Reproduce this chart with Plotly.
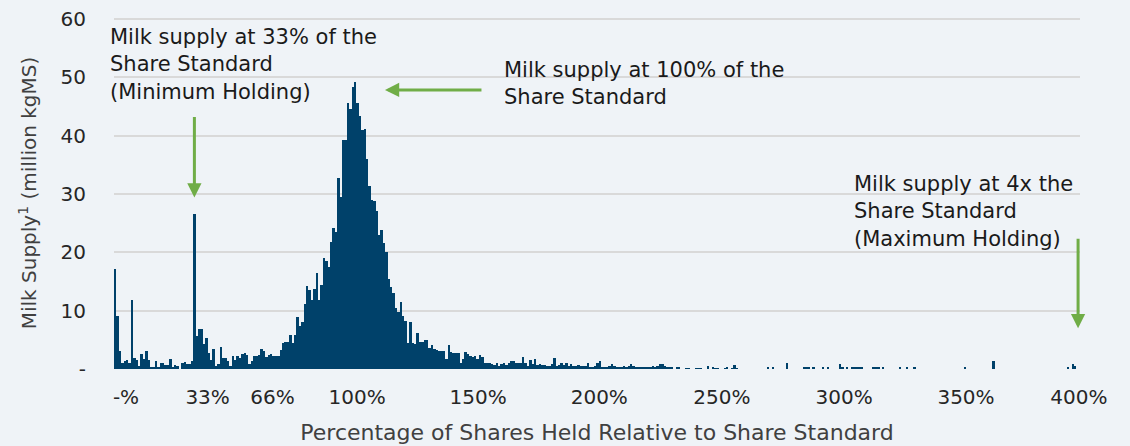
import plotly.graph_objects as go

# ---------------- data (million kgMS per 1% bin of share holding) ----------------
supply_000_049 = [17.1, 9.1, 3.0, 1.1, 1.4, 1.6, 1.0, 11.8, 1.8, 1.6,
                  0.5, 2.6, 1.7, 3.0, 1.6, 0.3, 0.3, 1.3, 0.4, 1.1,
                  1.0, 0.7, 0.7, 1.7, 0.3, 0.7, 0.5, 0.0, 1.1, 1.2,
                  0.9, 0.9, 1.3, 26.6, 5.7, 6.9, 6.8, 4.2, 5.3, 2.7,
                  1.6, 3.5, 0.5, 0.9, 3.7, 1.9, 1.8, 1.4, 0.6, 2.3]
supply_050_099 = [1.5, 2.2, 1.9, 2.5, 2.8, 2.4, 0.9, 1.3, 2.3, 2.3,
                  2.4, 3.5, 3.0, 2.0, 2.4, 2.5, 2.2, 2.2, 2.3, 3.2,
                  4.5, 4.6, 4.7, 5.9, 4.4, 5.9, 8.9, 7.3, 8.1, 11.1,
                  14.2, 13.5, 11.8, 13.7, 16.5, 11.8, 14.4, 19.0, 18.5, 17.4,
                  21.8, 24.1, 23.5, 32.7, 29.4, 39.3, 39.3, 45.5, 44.5, 48.3]
supply_100_149 = [49.1, 45.5, 43.4, 41.0, 41.2, 35.9, 31.3, 29.0, 28.7, 27.0,
                  23.0, 23.8, 21.5, 20.1, 15.5, 14.1, 13.1, 10.4, 9.8, 11.4,
                  9.0, 8.3, 4.5, 8.1, 4.5, 4.3, 6.1, 4.7, 4.6, 5.0,
                  5.0, 3.6, 4.1, 3.4, 3.2, 3.0, 3.0, 3.0, 1.7, 4.1,
                  2.9, 2.7, 2.7, 2.7, 1.1, 1.7, 2.9, 2.6, 2.2, 2.0]
supply_150_199 = [2.2, 1.7, 2.4, 2.0, 1.1, 1.0, 1.0, 0.9, 0.75, 1.0,
                  0.6, 0.9, 1.0, 0.75, 1.1, 1.4, 1.3, 1.1, 1.0, 1.1,
                  2.1, 1.0, 0.6, 1.6, 0.8, 1.7, 0.75, 0.9, 0.75, 0.75,
                  0.6, 0.6, 0.9, 1.9, 0.6, 0.75, 1.0, 0.75, 1.1, 0.6,
                  0.9, 0.6, 0.6, 0.75, 0.5, 0.6, 0.6, 1.1, 0.35, 0.35]
supply_200_259 = [0.6, 1.0, 1.3, 0.2, 0.35, 0.35, 0.6, 0.9, 0.6, 0.35,
                  0.2, 0.35, 0.6, 0.35, 0.6, 0.9, 0.6, 0.2, 0.25, 0.25,
                  0.3, 0.25, 0.35, 0.35, 0.6, 0.35, 0.6, 0.85, 0.9, 0.6,
                  0.25, 0.2, 0.35, 0.0, 0.35, 0.35, 0.0, 0.0, 0.17, 0.17,
                  0.0, 0.0, 0.17, 0.17, 0.17, 0.0, 0.0, 0.45, 0.0, 0.35,
                  0.17, 0.17, 0.0, 0.0, 0.17, 0.2, 0.0, 0.17, 0.75, 0.17]
# sparse holdings above 260%
tail_bins = [272, 274, 280, 287, 288, 289, 291, 295, 297, 302, 303, 305, 307, 308, 309,
             310, 311, 316, 317, 318, 320, 327, 330, 333, 354, 366, 397, 399, 400]
tail_supply = [0.3, 0.3, 1.0, 0.3, 0.4, 0.3, 0.3, 0.3, 0.3, 0.8, 0.3, 0.3, 0.3, 0.3, 0.3,
               0.2, 0.3, 0.3, 0.4, 0.3, 0.3, 0.3, 0.3, 0.3, 0.3, 1.3, 0.4, 0.8, 0.5]

x_tick_labels = ["-%", "33%", "66%", "100%", "150%", "200%", "250%", "300%", "350%", "400%"]
x_tick_pos = [4.5, 38.5, 65.5, 100.8, 151.2, 201.7, 252.8, 303.7, 354.5, 401.5]
y_tick_vals = [0, 10, 20, 30, 40, 50, 60]
y_tick_labels = ["-", "10", "20", "30", "40", "50", "60"]

# ---------------- assemble ----------------
head = supply_000_049 + supply_050_099 + supply_100_149 + supply_150_199 + supply_200_259
bins = list(range(len(head))) + tail_bins
supply = head + tail_supply

BG = "#EFF3F7"
BAR = "#00416A"
GREEN = "#70AD47"
FONT = "DejaVu Sans"
TXT = "#1A1A1A"

fig = go.Figure(go.Bar(x=bins, y=supply, width=1.0,
                       marker=dict(color=BAR, line=dict(width=0)),
                       hoverinfo="x+y"))

fig.update_layout(
    width=1130, height=446,
    margin=dict(l=114, r=50, t=17, b=77),
    paper_bgcolor=BG, plot_bgcolor=BG,
    bargap=0, showlegend=False,
    font=dict(family=FONT, color=TXT),
)
fig.update_xaxes(range=[-0.5, 402], tickmode="array", tickvals=x_tick_pos, ticktext=x_tick_labels,
                 showgrid=False, zeroline=False, showline=False, ticks="", automargin=False,
                 ticklabelstandoff=14,
                 tickfont=dict(size=20, color="#262626"),
                 title=dict(text="Percentage of Shares Held Relative to Share Standard",
                            font=dict(size=22, color="#404040"), standoff=16))
fig.update_yaxes(range=[0, 60.3], tickmode="array", tickvals=y_tick_vals, ticktext=y_tick_labels,
                 showgrid=True, gridcolor="#D9D9D9", gridwidth=2, zeroline=False, showline=False,
                 ticks="", ticklabelstandoff=27, automargin=False,
                 tickfont=dict(size=20, color="#262626"),
                 title=dict(text="Milk Supply<sup>1</sup> (million kgMS)",
                            font=dict(size=20, color="#404040"), standoff=18))

ann_font = dict(family=FONT, size=21, color=TXT)
fig.add_annotation(xref="paper", x=-0.0062, y=52.2, xanchor="left", yanchor="middle", align="left",
                   showarrow=False,
                   text="Milk supply at 33% of the<br>Share Standard<br>(Minimum Holding)", font=ann_font)
fig.add_annotation(x=161, y=48.9, xanchor="left", yanchor="middle", align="left", showarrow=False,
                   text="Milk supply at 100% of the<br>Share Standard", font=ann_font)
fig.add_annotation(x=307, y=27.0, xanchor="left", yanchor="middle", align="left", showarrow=False,
                   text="Milk supply at 4x the<br>Share Standard<br>(Maximum Holding)", font=ann_font)

arrow = dict(showarrow=True, arrowhead=2, arrowsize=0.95, arrowwidth=3, arrowcolor=GREEN,
             text="", standoff=0, axref="pixel", ayref="pixel")
fig.add_annotation(x=33, y=29.4, ax=0, ay=-82, **arrow)
fig.add_annotation(x=112.4, y=47.8, ax=98, ay=0, **arrow)
fig.add_annotation(x=401.2, y=7.0, ax=0, ay=-91, **arrow)

fig.write_html("out.html", config={"displayModeBar": False},
               post_script="document.body.style.margin='0';document.body.style.background='%s';" % BG)
